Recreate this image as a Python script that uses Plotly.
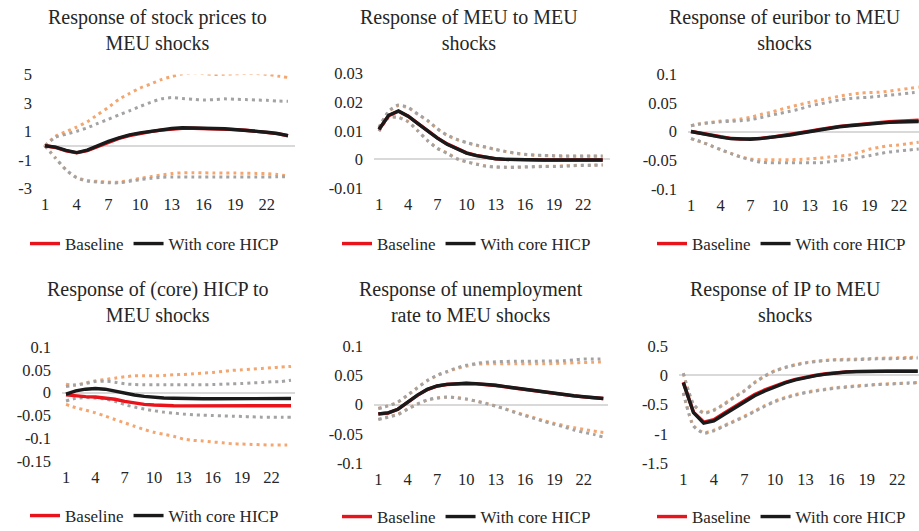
import plotly.graph_objects as go

periods = list(range(1, 25))
xtick_vals = [1, 4, 7, 10, 13, 16, 19, 22]
xtick_text = ["1", "4", "7", "10", "13", "16", "19", "22"]

titles = [
    "Response of stock prices to<br>MEU shocks",
    "Response of MEU to MEU<br>shocks",
    "Response of euribor to MEU<br>shocks",
    "Response of (core) HICP to<br>MEU shocks",
    "Response of unemployment<br>rate to MEU shocks",
    "Response of IP to MEU<br>shocks",
]

# ---- Panel 1: stock prices ----
p1_base = [0, -0.12, -0.36, -0.5, -0.34, -0.04, 0.27, 0.51, 0.72, 0.87, 0.99, 1.1, 1.17, 1.22, 1.23, 1.22, 1.19, 1.17, 1.13, 1.09, 1.01, 0.94, 0.85, 0.7]
p1_core = [0, -0.1, -0.33, -0.48, -0.31, 0, 0.31, 0.55, 0.76, 0.9, 1.02, 1.14, 1.21, 1.26, 1.26, 1.24, 1.21, 1.19, 1.14, 1.1, 1.02, 0.95, 0.86, 0.71]
p1_base_up = [0, 0.67, 1.0, 1.31, 1.69, 2.19, 2.69, 3.26, 3.67, 4.05, 4.33, 4.64, 4.86, 5.05, 5.12, 5.07, 5.0, 5.02, 5.05, 5.07, 5.07, 5.02, 4.9, 4.79]
p1_base_lo = [0, -0.86, -1.68, -2.22, -2.44, -2.5, -2.55, -2.55, -2.43, -2.29, -2.17, -2.05, -1.95, -1.9, -1.89, -1.9, -1.91, -1.92, -1.92, -1.93, -1.94, -1.95, -2.02, -2.12]
p1_core_up = [0, 0.6, 0.81, 1.02, 1.26, 1.57, 1.86, 2.17, 2.45, 2.76, 3.05, 3.29, 3.38, 3.31, 3.26, 3.21, 3.24, 3.29, 3.26, 3.24, 3.21, 3.19, 3.14, 3.12]
p1_core_lo = [0, -0.88, -1.71, -2.26, -2.48, -2.55, -2.6, -2.6, -2.5, -2.38, -2.29, -2.21, -2.19, -2.19, -2.2, -2.2, -2.19, -2.19, -2.2, -2.2, -2.19, -2.19, -2.18, -2.17]

# ---- Panel 2: MEU ----
p2_base = [0.0104, 0.0153, 0.0168, 0.0151, 0.0126, 0.01, 0.0075, 0.0054, 0.0037, 0.0023, 0.0014, 0.0007, 0.0002, 0.0, -0.0001, -0.0001, -0.0002, -0.0002, -0.0002, -0.0002, -0.0002, -0.0002, -0.0002, -0.0002]
p2_core = [0.0105, 0.0154, 0.0169, 0.0151, 0.0125, 0.0099, 0.0074, 0.0053, 0.0036, 0.0022, 0.0013, 0.0006, 0.0002, 0.0, -0.0001, -0.0001, -0.0002, -0.0002, -0.0002, -0.0002, -0.0002, -0.0002, -0.0002, -0.0002]
p2_base_up = [0.0111, 0.0167, 0.0188, 0.018, 0.0157, 0.0135, 0.0106, 0.0084, 0.0069, 0.0058, 0.0049, 0.0042, 0.0034, 0.0027, 0.0021, 0.0017, 0.0014, 0.0013, 0.0012, 0.0011, 0.0011, 0.0011, 0.0011, 0.0011]
p2_base_lo = [0.0099, 0.0147, 0.0147, 0.0132, 0.01, 0.0066, 0.0039, 0.0022, 0.0003, -0.0008, -0.0016, -0.0023, -0.0026, -0.0027, -0.0027, -0.0026, -0.0025, -0.0024, -0.0024, -0.0023, -0.0021, -0.002, -0.002, -0.0019]
p2_core_up = [0.0112, 0.0169, 0.019, 0.0182, 0.0158, 0.0136, 0.0107, 0.0085, 0.007, 0.0059, 0.005, 0.0043, 0.0035, 0.0028, 0.0022, 0.0018, 0.0015, 0.0014, 0.0013, 0.0012, 0.0012, 0.0012, 0.0012, 0.0012]
p2_core_lo = [0.0098, 0.0146, 0.0146, 0.0131, 0.0099, 0.0065, 0.0038, 0.0021, 0.0002, -0.0009, -0.0017, -0.0024, -0.0027, -0.0028, -0.0028, -0.0027, -0.0026, -0.0025, -0.0025, -0.0024, -0.0022, -0.0021, -0.0021, -0.002]

# ---- Panel 3: euribor ----
p3_base = [0, -0.0033, -0.0068, -0.0097, -0.012, -0.0132, -0.0132, -0.012, -0.0101, -0.0078, -0.0055, -0.0026, 0.0005, 0.0035, 0.0064, 0.0089, 0.0107, 0.0126, 0.0145, 0.0157, 0.017, 0.0178, 0.0186, 0.0195]
p3_core = [0, -0.0035, -0.007, -0.0099, -0.0123, -0.0135, -0.0135, -0.0123, -0.0105, -0.0082, -0.006, -0.003, 0, 0.003, 0.0058, 0.0082, 0.0099, 0.0117, 0.0135, 0.0146, 0.0158, 0.0164, 0.017, 0.0175]
p3_base_up = [0.01, 0.0135, 0.0158, 0.0181, 0.0193, 0.0217, 0.0246, 0.0293, 0.0333, 0.038, 0.0427, 0.0468, 0.0509, 0.0544, 0.0579, 0.0614, 0.0643, 0.0667, 0.0678, 0.0684, 0.0702, 0.0725, 0.0749, 0.0772]
p3_base_lo = [-0.0123, -0.018, -0.0246, -0.0316, -0.038, -0.044, -0.0479, -0.0491, -0.0491, -0.0491, -0.0491, -0.0485, -0.0474, -0.0462, -0.0444, -0.0427, -0.0409, -0.0363, -0.031, -0.0275, -0.0246, -0.0234, -0.0211, -0.0187]
p3_core_up = [0.01, 0.0135, 0.0152, 0.017, 0.0175, 0.0187, 0.0205, 0.024, 0.0281, 0.0316, 0.0351, 0.0392, 0.0444, 0.0479, 0.0514, 0.0549, 0.0573, 0.0585, 0.0596, 0.0614, 0.0632, 0.0649, 0.0667, 0.0684]
p3_core_lo = [-0.0123, -0.018, -0.0246, -0.0316, -0.038, -0.0444, -0.0491, -0.0532, -0.0544, -0.0544, -0.0544, -0.0544, -0.0544, -0.0544, -0.0526, -0.0503, -0.0485, -0.045, -0.0421, -0.0386, -0.0357, -0.0339, -0.0322, -0.0304]

# ---- Panel 4: (core) HICP ----
p4_base = [-0.005, -0.0074, -0.0088, -0.0096, -0.0118, -0.0147, -0.0192, -0.0229, -0.0258, -0.0273, -0.0288, -0.029, -0.0291, -0.0292, -0.0292, -0.0292, -0.0291, -0.029, -0.029, -0.029, -0.0289, -0.0289, -0.0289, -0.0288]
p4_core = [-0.0035, 0.0037, 0.0075, 0.0089, 0.0075, 0.003, -0.0015, -0.0052, -0.0082, -0.0103, -0.0118, -0.0125, -0.0133, -0.0135, -0.0136, -0.0136, -0.0136, -0.0135, -0.0135, -0.0134, -0.0134, -0.0133, -0.0132, -0.013]
p4_base_up = [0.0186, 0.0162, 0.0214, 0.0258, 0.0288, 0.0317, 0.0347, 0.0369, 0.0369, 0.0369, 0.0376, 0.0391, 0.0398, 0.0413, 0.0428, 0.0442, 0.0464, 0.0487, 0.0501, 0.0516, 0.0531, 0.0546, 0.056, 0.0575]
p4_base_lo = [-0.0258, -0.0332, -0.0384, -0.0443, -0.0516, -0.059, -0.0664, -0.0737, -0.0811, -0.087, -0.0914, -0.0959, -0.1018, -0.1047, -0.1062, -0.1084, -0.1099, -0.1121, -0.1128, -0.1136, -0.1143, -0.115, -0.115, -0.115]
p4_core_up = [0.0133, 0.017, 0.0199, 0.0243, 0.0251, 0.0228, 0.0192, 0.0177, 0.017, 0.017, 0.017, 0.017, 0.017, 0.017, 0.017, 0.0177, 0.0184, 0.0192, 0.0199, 0.0214, 0.0221, 0.0236, 0.0243, 0.0273]
p4_core_lo = [-0.0184, -0.0125, -0.011, -0.0118, -0.014, -0.0192, -0.0265, -0.0317, -0.0361, -0.0398, -0.0428, -0.045, -0.0472, -0.0487, -0.0494, -0.0501, -0.0509, -0.0516, -0.0523, -0.0531, -0.0538, -0.0538, -0.0538, -0.0538]

# ---- Panel 5: unemployment rate ----
p5_base = [-0.0163, -0.0146, -0.0083, 0.0043, 0.0157, 0.0255, 0.0313, 0.0342, 0.0353, 0.0359, 0.0353, 0.0342, 0.0325, 0.0302, 0.0279, 0.0251, 0.0228, 0.0205, 0.0183, 0.0165, 0.0148, 0.0131, 0.012, 0.0102]
p5_core = [-0.0161, -0.0144, -0.0081, 0.0046, 0.016, 0.0258, 0.0316, 0.0345, 0.0356, 0.0362, 0.0356, 0.0345, 0.0328, 0.0305, 0.0282, 0.0253, 0.023, 0.0207, 0.0184, 0.0166, 0.0149, 0.0132, 0.0121, 0.0103]
p5_base_up = [-0.0069, -0.0023, 0.004, 0.016, 0.0287, 0.0405, 0.0495, 0.0555, 0.0615, 0.0655, 0.069, 0.0695, 0.0695, 0.0695, 0.0695, 0.0695, 0.0695, 0.0695, 0.0701, 0.0707, 0.0713, 0.0718, 0.0724, 0.073]
p5_base_lo = [-0.025, -0.021, -0.0165, -0.0075, 0.001, 0.008, 0.0112, 0.0128, 0.0117, 0.0094, 0.0059, 0.002, -0.0025, -0.0075, -0.013, -0.018, -0.023, -0.0282, -0.0322, -0.0362, -0.0397, -0.0425, -0.0454, -0.0477]
p5_core_up = [-0.0069, -0.0023, 0.004, 0.016, 0.0287, 0.0408, 0.05, 0.0563, 0.0626, 0.0672, 0.0701, 0.0724, 0.073, 0.0736, 0.074, 0.074, 0.074, 0.0742, 0.0742, 0.075, 0.0764, 0.0776, 0.0776, 0.078]
p5_core_lo = [-0.0259, -0.0218, -0.0172, -0.008, 0.0006, 0.0075, 0.0109, 0.0126, 0.0115, 0.0092, 0.0057, 0.0017, -0.0029, -0.008, -0.0138, -0.019, -0.0241, -0.0293, -0.0339, -0.0385, -0.0437, -0.0477, -0.0511, -0.0557]

# ---- Panel 6: IP ----
p6_base = [-0.12, -0.63, -0.8, -0.76, -0.65, -0.54, -0.43, -0.33, -0.25, -0.18, -0.12, -0.07, -0.03, 0.0, 0.025, 0.043, 0.058, 0.064, 0.069, 0.07, 0.07, 0.07, 0.07, 0.07]
p6_core = [-0.126, -0.64, -0.82, -0.78, -0.67, -0.56, -0.45, -0.35, -0.27, -0.195, -0.13, -0.08, -0.04, -0.006, 0.02, 0.039, 0.056, 0.062, 0.068, 0.068, 0.068, 0.068, 0.068, 0.068]
p6_base_up = [0.034, -0.49, -0.64, -0.59, -0.49, -0.37, -0.26, -0.12, -0.01, 0.08, 0.137, 0.182, 0.217, 0.24, 0.257, 0.27, 0.272, 0.277, 0.283, 0.29, 0.294, 0.298, 0.303, 0.31]
p6_base_lo = [-0.3, -0.86, -0.98, -0.94, -0.86, -0.78, -0.7, -0.61, -0.52, -0.44, -0.38, -0.33, -0.29, -0.26, -0.235, -0.21, -0.195, -0.18, -0.17, -0.155, -0.148, -0.138, -0.132, -0.122]
p6_core_up = [0.034, -0.5, -0.65, -0.6, -0.5, -0.38, -0.27, -0.13, -0.017, 0.073, 0.13, 0.175, 0.21, 0.233, 0.25, 0.262, 0.262, 0.267, 0.273, 0.28, 0.282, 0.285, 0.29, 0.295]
p6_core_lo = [-0.3, -0.87, -0.99, -0.95, -0.87, -0.79, -0.71, -0.62, -0.53, -0.45, -0.39, -0.34, -0.3, -0.27, -0.245, -0.22, -0.205, -0.188, -0.177, -0.16, -0.154, -0.143, -0.137, -0.126]

# y-axis ticks per panel
y_ticks = [
    ([-3, -1, 1, 3, 5], ["-3", "-1", "1", "3", "5"]),
    ([-0.01, 0, 0.01, 0.02, 0.03], ["-0.01", "0", "0.01", "0.02", "0.03"]),
    ([-0.1, -0.05, 0, 0.05, 0.1], ["-0.1", "-0.05", "0", "0.05", "0.1"]),
    ([-0.15, -0.1, -0.05, 0, 0.05, 0.1], ["-0.15", "-0.1", "-0.05", "0", "0.05", "0.1"]),
    ([-0.1, -0.05, 0, 0.05, 0.1], ["-0.1", "-0.05", "0", "0.05", "0.1"]),
    ([-1.5, -1, -0.5, 0, 0.5], ["-1.5", "-1", "-0.5", "0", "0.5"]),
]

panels = [
    (p1_base, p1_core, p1_base_up, p1_base_lo, p1_core_up, p1_core_lo),
    (p2_base, p2_core, p2_base_up, p2_base_lo, p2_core_up, p2_core_lo),
    (p3_base, p3_core, p3_base_up, p3_base_lo, p3_core_up, p3_core_lo),
    (p4_base, p4_core, p4_base_up, p4_base_lo, p4_core_up, p4_core_lo),
    (p5_base, p5_core, p5_base_up, p5_base_lo, p5_core_up, p5_core_lo),
    (p6_base, p6_core, p6_base_up, p6_base_lo, p6_core_up, p6_core_lo),
]

# ---------------- layout geometry (pixels) ----------------
W, H = 919, 531
# (plot left, plot right, x of period 1, x of period 24, plot top, plot bottom)
geom = [
    (43, 295, 45, 288, 74.5, 188.5),
    (374, 610, 379, 602.7, 73.5, 188),
    (688, 919, 691, 918.7, 74, 189),
    (62, 295, 66, 291, 347, 461),
    (374, 608, 378.3, 603.3, 346, 463),
    (679, 919, 683.3, 917.7, 346, 463),
]
title_pos = [(157, 30), (469, 30), (785, 30), (157, 302), (471, 302), (785, 302)]
legend_pos = [(35, 244), (347, 244), (662, 244), (35, 516), (347, 517), (662, 517)]

FONT = "'Liberation Serif', Tinos, 'Times New Roman', 'DejaVu Serif', serif"
TXT = "#262626"
RED = "#E8131B"
BLACK = "#1A1A1A"
ORANGE = "#F4A670"
GRAY = "#A3A3A3"
DOT = "3px,4px"

fig = go.Figure()
layout = dict(
    width=W, height=H, autosize=False,
    margin=dict(l=0, r=0, t=0, b=0, autoexpand=False),
    paper_bgcolor="white", plot_bgcolor="white",
    font=dict(family=FONT, color=TXT, size=17),
    annotations=[],
)

for k in range(6):
    n = k + 1
    sfx = "" if n == 1 else str(n)
    xa, ya = "x" + sfx, "y" + sfx
    leg = "legend" + sfx
    base, core, bup, blo, cup, clo = panels[k]

    for arr, col in ((bup, ORANGE), (blo, ORANGE), (cup, GRAY), (clo, GRAY)):
        fig.add_trace(go.Scatter(
            x=periods, y=arr, mode="lines", xaxis=xa, yaxis=ya,
            line=dict(color=col, width=3, dash=DOT, shape="spline", smoothing=0.6),
            showlegend=False, hoverinfo="skip"))
    fig.add_trace(go.Scatter(
        x=periods, y=base, mode="lines", name="Baseline", xaxis=xa, yaxis=ya,
        line=dict(color=RED, width=3.4), legend=leg, showlegend=True))
    fig.add_trace(go.Scatter(
        x=periods, y=core, mode="lines", name="With core HICP", xaxis=xa, yaxis=ya,
        line=dict(color=BLACK, width=3.4), legend=leg, showlegend=True))

    L, R, x1, x24, T, B = geom[k]
    u = 23.0 / (x24 - x1)
    xr = [1 - (x1 - L) * u, 24 + (R - x24) * u]
    tv, tt = y_ticks[k]
    layout["xaxis" + sfx] = dict(
        domain=[L / W, min(R / W, 1.0)], range=xr, anchor=ya,
        tickvals=xtick_vals, ticktext=xtick_text, showgrid=False, zeroline=False,
        showline=False, ticks="", tickfont=dict(family=FONT, size=16.5, color=TXT),
        ticklabelstandoff=4, fixedrange=True, automargin=False)
    layout["yaxis" + sfx] = dict(
        domain=[1 - B / H, 1 - T / H], range=[tv[0], tv[-1]], anchor=xa,
        tickvals=tv, ticktext=tt, showgrid=False, zeroline=True,
        zerolinecolor="#D9D9D9", zerolinewidth=1.6, showline=False, ticks="",
        tickfont=dict(family=FONT, size=16.5, color=TXT),
        ticklabelstandoff=10, fixedrange=True, automargin=False)

    lx, ly = legend_pos[k]
    layout[leg] = dict(
        orientation="h", x=(lx - 10) / W, y=1 - ly / H, xanchor="left", yanchor="middle",
        font=dict(family=FONT, size=17, color=TXT), bgcolor="rgba(0,0,0,0)",
        itemwidth=30, tracegroupgap=0)

    tx, ty = title_pos[k]
    layout["annotations"].append(dict(
        text=titles[k], x=tx / W, y=1 - ty / H, xref="paper", yref="paper",
        xanchor="center", yanchor="middle", showarrow=False,
        font=dict(family=FONT, size=20, color=TXT)))

fig.update_layout(**layout)
fig.write_html("out.html")
